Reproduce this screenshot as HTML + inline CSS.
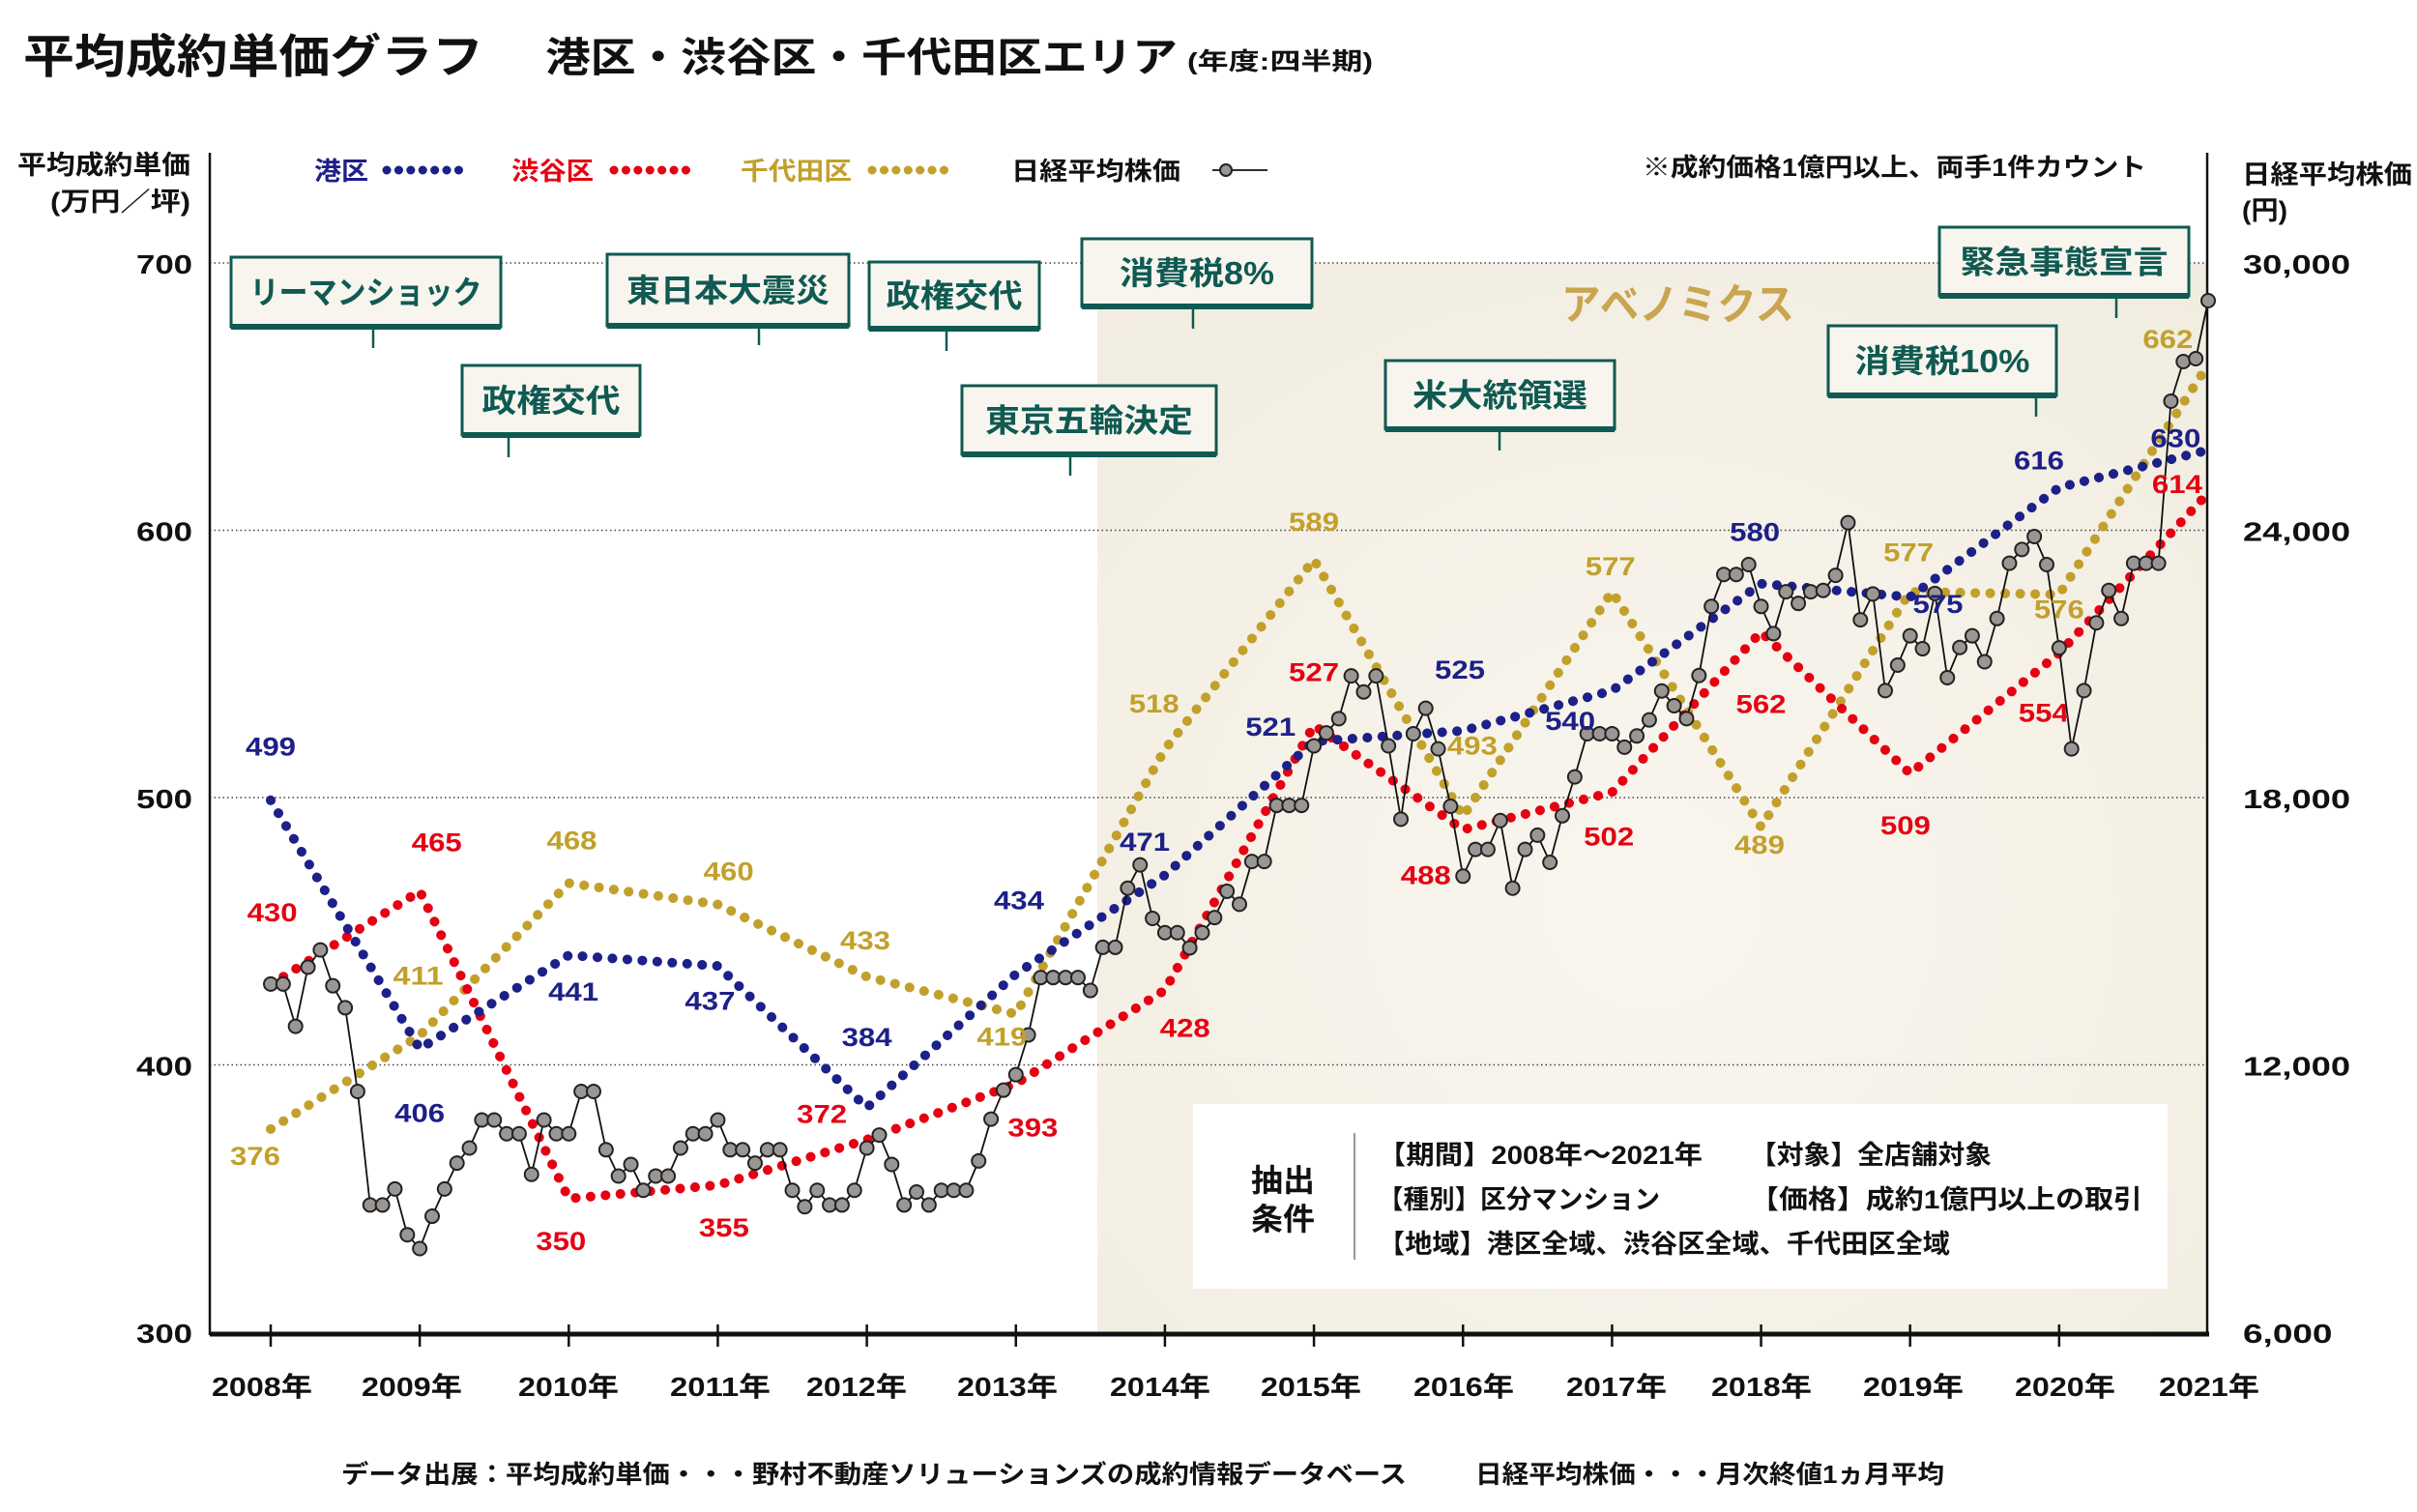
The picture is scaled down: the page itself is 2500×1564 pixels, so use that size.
<!DOCTYPE html>
<html><head><meta charset="utf-8"><style>
html,body{margin:0;padding:0;background:#fff;}
svg{display:block;}
text{font-family:"Liberation Sans","Noto Sans CJK JP",sans-serif;font-weight:bold;}
</style></head><body>
<svg id="chart" width="2500" height="1564" viewBox="0 0 2500 1564" xmlns="http://www.w3.org/2000/svg">
<defs>
<radialGradient id="abeGrad" cx="0.5" cy="0.6" r="0.8">
<stop offset="0" stop-color="#f9f6ef"/><stop offset="1" stop-color="#f1ecdf"/>
</radialGradient>
</defs>
<!-- title -->
<text x="24" y="75" font-size="48" textLength="476" lengthAdjust="spacingAndGlyphs" fill="#111">平均成約単価グラフ</text>
<text x="564" y="74" font-size="42" textLength="654" lengthAdjust="spacingAndGlyphs" fill="#111">港区・渋谷区・千代田区エリア</text>
<text x="1228" y="72" font-size="25" textLength="192" lengthAdjust="spacingAndGlyphs" fill="#111">(年度:四半期)</text>

<!-- abenomics shading -->
<rect x="1135" y="272" width="1148" height="1106" fill="url(#abeGrad)"/>
<text x="1615" y="330" font-size="44" textLength="241" lengthAdjust="spacingAndGlyphs" fill="#c9a54f" font-weight="normal">アベノミクス</text>

<!-- conditions box -->
<g>
<rect x="1234" y="1142" width="1008" height="191" fill="#fff"/>
<text x="1294" y="1232" font-size="32" textLength="66" lengthAdjust="spacingAndGlyphs" fill="#111">抽出</text>
<text x="1294" y="1272" font-size="32" textLength="66" lengthAdjust="spacingAndGlyphs" fill="#111">条件</text>
<line x1="1401" y1="1172" x2="1401" y2="1303" stroke="#777" stroke-width="1.5"/>
<text x="1425" y="1204" font-size="27" textLength="336" lengthAdjust="spacingAndGlyphs" fill="#111">【期間】2008年～2021年</text>
<text x="1810" y="1204" font-size="27" textLength="250" lengthAdjust="spacingAndGlyphs" fill="#111">【対象】全店舗対象</text>
<text x="1425" y="1250" font-size="27" textLength="292" lengthAdjust="spacingAndGlyphs" fill="#111">【種別】区分マンション</text>
<text x="1810" y="1250" font-size="27" textLength="406" lengthAdjust="spacingAndGlyphs" fill="#111">【価格】成約1億円以上の取引</text>
<text x="1425" y="1296" font-size="27" textLength="592" lengthAdjust="spacingAndGlyphs" fill="#111">【地域】港区全域、渋谷区全域、千代田区全域</text>
</g>

<g id="grid"></g>
<g id="axes"></g>
<g id="annotations"></g>
<g id="series"></g>
<g id="labels"></g>

<!-- axis titles -->
<text x="18" y="180" font-size="27" textLength="179" lengthAdjust="spacingAndGlyphs" fill="#111">平均成約単価</text>
<text x="52" y="218" font-size="27" textLength="145" lengthAdjust="spacingAndGlyphs" fill="#111">(万円／坪)</text>
<text x="2319" y="190" font-size="27" textLength="176" lengthAdjust="spacingAndGlyphs" fill="#111">日経平均株価</text>
<text x="2319" y="227" font-size="27" textLength="47" lengthAdjust="spacingAndGlyphs" fill="#111">(円)</text>

<!-- legend -->
<g>
<text x="325" y="186" font-size="26" textLength="56" lengthAdjust="spacingAndGlyphs" fill="#1c2088">港区</text>
<path d="M400 176 L475 176" stroke="#1c2088" stroke-width="9" stroke-linecap="round" stroke-dasharray="0.1 12.3" fill="none"/>
<text x="529" y="186" font-size="26" textLength="85" lengthAdjust="spacingAndGlyphs" fill="#e60012">渋谷区</text>
<path d="M635 176 L710 176" stroke="#e60012" stroke-width="9" stroke-linecap="round" stroke-dasharray="0.1 12.3" fill="none"/>
<text x="766" y="186" font-size="26" textLength="115" lengthAdjust="spacingAndGlyphs" fill="#c2a02c">千代田区</text>
<path d="M902 176 L977 176" stroke="#c2a02c" stroke-width="9" stroke-linecap="round" stroke-dasharray="0.1 12.3" fill="none"/>
<text x="1046" y="186" font-size="26" textLength="175" lengthAdjust="spacingAndGlyphs" fill="#111">日経平均株価</text>
<line x1="1254" y1="176" x2="1311" y2="176" stroke="#111" stroke-width="1.8"/>
<circle cx="1268" cy="176" r="6" fill="#9a9694" stroke="#222" stroke-width="2"/>
</g>
<text x="1699" y="182" font-size="26" textLength="521" lengthAdjust="spacingAndGlyphs" fill="#111">※成約価格1億円以上、両手1件カウント</text>

<!-- source -->
<text x="353" y="1534" font-size="26" textLength="1102" lengthAdjust="spacingAndGlyphs" fill="#111">データ出展：平均成約単価・・・野村不動産ソリューションズの成約情報データベース</text>
<text x="1526" y="1534" font-size="26" textLength="485" lengthAdjust="spacingAndGlyphs" fill="#111">日経平均株価・・・月次終値1ヵ月平均</text>
</svg>
<script>
const years = ["2008年","2009年","2010年","2011年","2012年","2013年","2014年","2015年","2016年","2017年","2018年","2019年","2020年","2021年"];
const leftTicks = [300,400,500,600,700];
const rightTicks = ["6,000","12,000","18,000","24,000","30,000"];
const minato = [499,406,441,437,384,434,471,521,525,540,580,575,616,630];
const shibuya = [430,465,350,355,372,393,428,527,488,502,562,509,554,614];
const chiyoda = [376,411,468,460,433,419,518,589,493,577,489,577,576,662];
const nikkei = [13815,13815,12866,14193,14580,13776,13282,11403,8855,8855,9214,8187,7877,8603,9214,9795,10134,10763,10763,10454,10454,9543,10763,10454,10454,11403,11403,10095,9504,9766,9185,9504,9504,10134,10454,10454,10763,10095,10095,9795,10095,10095,9185,8816,9185,8855,8855,9185,10134,10425,9766,8855,9146,8855,9185,9185,9185,9843,10783,11432,11781,12672,13960,13960,13960,13960,13670,14638,14638,15966,16489,15287,14967,14967,14627,14967,15306,15897,15606,16565,16565,17825,17825,17825,19161,19452,19772,20731,20372,20731,19161,17514,19433,20004,19093,17805,16236,16836,16836,17485,15965,16836,17156,16546,17592,18464,19433,19433,19433,19132,19384,19743,20392,20062,19772,20740,22290,23007,23007,23230,22290,21680,22620,22358,22620,22649,22988,24170,21990,22571,20401,20973,21631,21341,22581,20692,21370,21631,21050,22019,23259,23569,23860,23230,21360,19093,20401,21922,22649,22019,23259,23259,23259,26898,27786,27852,29154];
const events = ["リーマンショック","政権交代","東日本大震災","政権交代","東京五輪決定","消費税8%","米大統領選","消費税10%","緊急事態宣言"];

const NS="http://www.w3.org/2000/svg";
const X0=280, X1=2284, Y300=1378, PPU=2.765, AXL=217, AXR=2283;
function xYear(t){return X0+(X1-X0)*t/13;}
function yVal(v){return Y300-(v-300)*PPU;}
function yNik(n){return yVal(300+(n-6000)/60);}
function mk(tag,attrs,parent){const e=document.createElementNS(NS,tag);for(const k in attrs)e.setAttribute(k,attrs[k]);parent.appendChild(e);return e;}

const grid=document.getElementById('grid');
const axes=document.getElementById('axes');
leftTicks.forEach((v,i)=>{
  if(v>300){
    const l=mk('line',{x1:AXL,x2:AXR,y1:yVal(v),y2:yVal(v),stroke:'#444','stroke-width':1.5,'stroke-dasharray':'1.5 3'},grid);
    
    
  }
  const t=mk('text',{x:199,y:yVal(v)+11,'font-size':28,'text-anchor':'end',fill:'#111',textLength:58,lengthAdjust:'spacingAndGlyphs'},axes);
  t.textContent=v;
  
  
  const r=mk('text',{x:2320,y:yVal(v)+11,'font-size':28,fill:'#111'},axes);
  r.textContent=rightTicks[i];
  r.setAttribute('textLength',rightTicks[i].length*18.5);
  r.setAttribute('lengthAdjust','spacingAndGlyphs');
  
  
});
let a=mk('line',{x1:AXL,x2:AXL,y1:158,y2:1381,stroke:'#111','stroke-width':2.5},axes);


a=mk('line',{x1:AXR,x2:AXR,y1:158,y2:1381,stroke:'#111','stroke-width':2.5},axes);


a=mk('line',{x1:AXL,x2:AXR+2,y1:1380,y2:1380,stroke:'#111','stroke-width':5},axes);


const yearLabelX=[271,426,588,745,886,1042,1200,1356,1514,1672,1822,1979,2136,2285];
years.forEach((y,i)=>{
  if(i<13){const tk=mk('line',{x1:xYear(i),x2:xYear(i),y1:1370,y2:1393,stroke:'#111','stroke-width':2.5},axes);
  
  }
  const t=mk('text',{x:yearLabelX[i],y:1444,'font-size':28,'text-anchor':'middle',fill:'#111',textLength:104,lengthAdjust:'spacingAndGlyphs'},axes);
  t.textContent=y;
  
  
});

// annotations
const annBoxes=[[239,266,279,72,386,360,240],[478,378,184,72,526,473,143],[628,263,250,74,785,357,210],[899,271,176,69,979,363,141],[995,399,263,71,1107,492,215],[1119,247,238,70,1234,340,160],[1433,373,237,71,1551,466,181],[1891,337,236,72,2106,431,181],[2006,235,258,71,2189,329,215]];
const ann=document.getElementById('annotations');
events.forEach((ev,i)=>{
  const [x,y,w,h,sx,sy,tw]=annBoxes[i];
  const g=mk('g',{},ann);
  
  
  mk('line',{x1:sx,x2:sx,y1:y+h,y2:sy,stroke:'#0f5a52','stroke-width':2.5},g);
  mk('rect',{x:x,y:y,width:w,height:h,fill:'#f8f5ee',stroke:'#0f5a52','stroke-width':3},g);
  mk('line',{x1:x,x2:x+w,y1:y+h,y2:y+h,stroke:'#0f5a52','stroke-width':6},g);
  const t=mk('text',{x:x+w/2,y:y+h/2+12,'font-size':33,'text-anchor':'middle',fill:'#0f5a52',textLength:tw,lengthAdjust:'spacingAndGlyphs'},g);
  t.textContent=ev;
});

// series
const ser=document.getElementById('series');
function dotted(vals,color,name){
  const d=vals.map((v,i)=>(i?'L':'M')+xYear(i).toFixed(1)+' '+yVal(v).toFixed(1)).join(' ');
  const p=mk('path',{d:d,fill:'none',stroke:color,'stroke-width':10,'stroke-linecap':'round','stroke-linejoin':'round','stroke-dasharray':'0.1 15.4'},ser);
  
  
}
dotted(chiyoda,'#c2a02c','line-chiyoda');
dotted(shibuya,'#e60012','line-shibuya');
dotted(minato,'#1c2088','line-minato');
const nd=nikkei.map((n,i)=>(i?'L':'M')+xYear(i/12).toFixed(1)+' '+yNik(n).toFixed(1)).join(' ');
const np=mk('path',{d:nd,fill:'none',stroke:'#111','stroke-width':1.8},ser);


nikkei.forEach((n,i)=>{
  const c=mk('circle',{cx:xYear(i/12),cy:yNik(n),r:7,fill:'#9a9694',stroke:'#222','stroke-width':2},ser);
  
  
});

// value labels (offsets in reference display units relative to point)
const lab=document.getElementById('labels');
const offMin=[[0,-35],[0,41],[3,23],[-5,22],[0,-46],[2,-48],[-13,-22],[-28,-10],[-2,-40],[-27,19],[-4,-34],[18,4],[-13,-18],[-21,-8]];
const offShi=[[1,-47],[11,-32],[-5,27],[4,27],[-29,-17],[11,28],[13,24],[0,-35],[-24,29],[-2,28],[0,46],[-3,33],[-10,38],[-20,-6]];
const offChi=[[-10,17],[-1,-39],[2,-28],[7,-22],[-1,-24],[-9,14],[-7,-30],[0,-25],[6,-46],[-1,-17],[-1,11],[-1,-26],[0,9],[-26,-17]];
function labels(vals,offs,color,name){
  vals.forEach((v,i)=>{
    const t=mk('text',{x:xYear(i)+offs[i][0]*1.6026,y:yVal(v)+offs[i][1]*1.6026+10,'font-size':27,'text-anchor':'middle',fill:color,textLength:52,lengthAdjust:'spacingAndGlyphs'},lab);
    t.textContent=v;
    
    
  });
}
labels(minato,offMin,'#1c2088','label-minato');
labels(shibuya,offShi,'#e60012','label-shibuya');
labels(chiyoda,offChi,'#c2a02c','label-chiyoda');
</script>
</body></html>
